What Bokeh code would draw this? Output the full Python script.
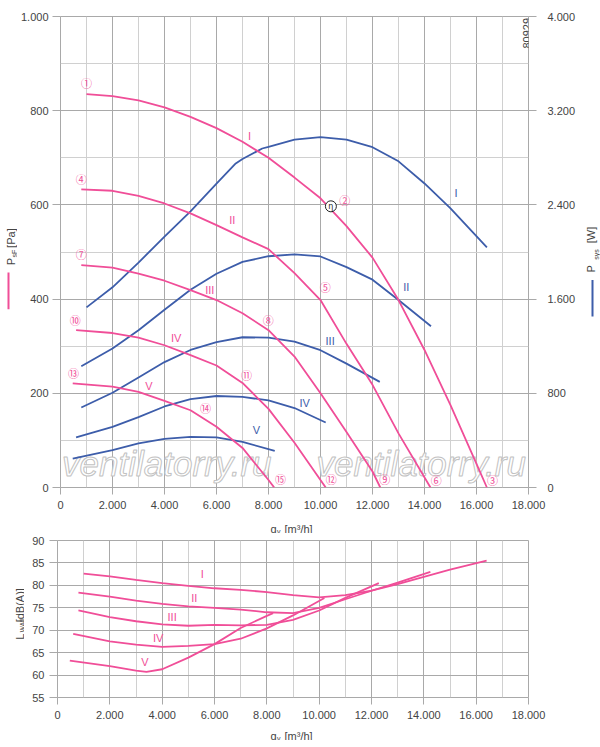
import math
from bokeh.plotting import figure
from bokeh.models import Range1d, LinearAxis, FixedTicker, Label
from bokeh.layouts import column, row
from bokeh.core.properties import value
from bokeh.embed import file_html
from bokeh.resources import INLINE

PINK = "#F04E98"
BLUE = "#3D5DAA"
GRID_D = "#a9a9a9"
GRID_L = "#d0d0d0"
TXT = "#444444"
FONT = "Liberation Sans"

# ---------------- data ----------------
x_ticks = [0, 2000, 4000, 6000, 8000, 10000, 12000, 14000, 16000, 18000]
x_tick_labels = ["0", "2.000", "4.000", "6.000", "8.000", "10.000", "12.000", "14.000", "16.000", "18.000"]
x_minor = [1000, 3000, 5000, 7000, 9000, 11000, 13000, 15000, 17000]
p_ticks = [0, 200, 400, 600, 800, 1000]
p_tick_labels = ["0", "200", "400", "600", "800", "1.000"]
p_minor = [100, 300, 500, 700, 900]
w_ticks = [0, 800, 1600, 2400, 3200, 4000]
w_tick_labels = ["0", "800", "1.600", "2.400", "3.200", "4.000"]
db_ticks = [55, 60, 65, 70, 75, 80, 85, 90]
db_tick_labels = ["55", "60", "65", "70", "75", "80", "85", "90"]

# static pressure psF [Pa]
ps_I_x = [1000, 2000, 3000, 4000, 5000, 6000, 7000, 8000, 9000, 10000, 11000, 12000, 13000, 14000, 15000, 16000, 16400]
ps_I_y = [835, 831, 822, 807, 787, 763, 734, 700, 658, 614, 555, 488, 398, 292, 175, 50, 0]
ps_II_x = [800, 2000, 3000, 4000, 5000, 6000, 7000, 8000, 9000, 10000, 11000, 12000, 13000, 14230]
ps_II_y = [633, 630, 619, 603, 582, 557, 531, 506, 455, 398, 305, 218, 115, 0]
ps_III_x = [800, 2000, 3000, 4000, 5000, 6000, 7000, 8000, 9000, 10000, 11000, 12000, 12300]
ps_III_y = [472, 467, 454, 439, 419, 398, 370, 334, 278, 200, 118, 34, 0]
ps_IV_x = [600, 2000, 3000, 4000, 5000, 6000, 7000, 8000, 9000, 10200]
ps_IV_y = [334, 328, 318, 302, 281, 259, 222, 167, 95, 0]
ps_V_x = [470, 2000, 3000, 4000, 5000, 6000, 7000, 8000, 8220]
ps_V_y = [221, 214, 203, 184, 164, 129, 84, 16, 0]

# power Psys [W]
pw_I_x = [1000, 2000, 3000, 4000, 5000, 6000, 6740, 7000, 7760, 8000, 9000, 10000, 11000, 12000, 13000, 14000, 15000, 16400]
pw_I_y = [1530, 1700, 1910, 2130, 2345, 2580, 2752, 2790, 2879, 2893, 2955, 2975, 2955, 2890, 2770, 2582, 2370, 2040]
pw_II_x = [800, 2000, 3000, 4000, 5000, 6000, 7000, 8000, 9000, 10000, 11000, 12000, 13000, 14250]
pw_II_y = [1030, 1180, 1335, 1510, 1680, 1815, 1916, 1964, 1980, 1962, 1872, 1765, 1592, 1370]
pw_III_x = [800, 2000, 3000, 4000, 5000, 6000, 7000, 8000, 9000, 10000, 11000, 12280]
pw_III_y = [679, 805, 935, 1065, 1168, 1235, 1276, 1272, 1238, 1166, 1052, 897]
pw_IV_x = [600, 2000, 3000, 4000, 5000, 6000, 7000, 8000, 9000, 10200]
pw_IV_y = [425, 515, 598, 688, 750, 777, 769, 740, 675, 552]
pw_V_x = [470, 2000, 3000, 4000, 5000, 6000, 7000, 8240]
pw_V_y = [246, 317, 374, 413, 430, 425, 387, 311]

# sound power LWA5 [dB(A)]
db_I_x = [1000, 2000, 3000, 4000, 5000, 6000, 7000, 8000, 9000, 10000, 11000, 12000, 13000, 14000, 15000, 16400]
db_I_y = [82.6, 82.0, 81.2, 80.5, 79.9, 79.35, 79.0, 78.5, 77.8, 77.3, 77.8, 78.8, 80.3, 81.9, 83.5, 85.5]
db_II_x = [800, 2000, 3000, 4000, 5000, 6000, 7000, 8000, 9000, 10000, 11000, 12000, 13000, 14250]
db_II_y = [78.4, 77.5, 76.6, 75.85, 75.3, 75.0, 74.6, 74.0, 73.8, 75.0, 76.9, 78.8, 80.6, 83.0]
db_III_x = [800, 2000, 3000, 4000, 5000, 6000, 7000, 8000, 9000, 10000, 11000, 12280]
db_III_y = [74.4, 72.9, 72.0, 71.3, 71.0, 71.2, 71.1, 71.2, 72.3, 74.4, 77.2, 80.5]
db_IV_x = [600, 2000, 3000, 4000, 5000, 6000, 7000, 8000, 9000, 10200]
db_IV_y = [69.2, 67.5, 66.8, 66.3, 66.5, 66.9, 68.1, 70.4, 73.3, 77.2]
db_V_x = [470, 2000, 3000, 3400, 4000, 5000, 6000, 7000, 8000, 8240]
db_V_y = [63.2, 62.0, 61.0, 60.7, 61.3, 63.9, 66.9, 70.5, 73.2, 73.8]

curve_names = ["I", "II", "III", "IV", "V"]

# operating point markers (circled numbers)
mark_text = ["①", "④", "⑦", "⑩", "⑬", "②", "⑤", "⑧", "⑪", "⑭", "③", "⑥", "⑨", "⑫", "⑮"]
mark_x = [1000, 800, 800, 570, 500, 10930, 10180, 7990, 7150, 5580, 16620, 14450, 12470, 10410, 8460]
mark_y = [858, 655, 495, 355, 243, 610, 425, 355, 238, 168, 16, 16, 17, 17, 17]
eta_x = [10400]
eta_y = [597]

# curve label positions
ps_lab_x = [7270, 6610, 5740, 4450, 3400]
ps_lab_y = [746, 567, 419, 318, 215]
pw_lab_x = [15210, 13300, 10370, 9390, 7540]
pw_lab_y = [2502, 1704, 1240, 720, 488]
db_lab_x = [5530, 5230, 4380, 3850, 3340]
db_lab_y = [82.6, 77.2, 72.9, 68.3, 62.9]


# ---------------- helpers ----------------
def fx(px):
    return (px - 57) / 471 * 18000


def fy1(py):
    return (487 - py) / 471 * 1000


def style_axis(ax, standoff, tick_out=8):
    ax.axis_line_color = None
    ax.major_tick_line_color = GRID_D
    ax.major_tick_out = tick_out
    ax.major_tick_in = 0
    ax.minor_tick_line_color = None
    ax.major_label_text_font = FONT
    ax.major_label_text_font_size = "11px"
    ax.major_label_text_color = TXT
    ax.major_label_standoff = standoff


def lab(p, x, y, text, size="11px", angle=0.0, color=TXT, align="left", baseline="alphabetic"):
    p.add_layout(Label(x=x, y=y, text=text, angle=angle, text_font=FONT, text_font_size=size,
                       text_color=color, text_align=align, text_baseline=baseline))


def text_panel(w, h):
    # a blank canvas whose data units are its own pixels (y downwards)
    f = figure(width=w, height=h, x_range=Range1d(0, w), y_range=Range1d(h, 0),
               x_axis_location=None, y_axis_location=None, min_border=0,
               output_backend="svg", toolbar_location=None)
    f.outline_line_color = None
    f.grid.visible = False
    return f


UP = math.pi / 2

# ---------------- top chart (page x 17..578, y 0..515) ----------------
p1 = figure(width=561, height=515, x_range=Range1d(0, 18000), y_range=Range1d(0, 1000),
            output_backend="svg", toolbar_location=None,
            min_border_left=40, min_border_right=50, min_border_top=16, min_border_bottom=28)
p1.extra_y_ranges = {"pw": Range1d(0, 4000)}
p1.outline_line_color = GRID_D
p1.xaxis.ticker = FixedTicker(ticks=x_ticks, minor_ticks=x_minor)
p1.yaxis.ticker = FixedTicker(ticks=p_ticks, minor_ticks=p_minor)
p1.xaxis.major_label_overrides = dict(zip(x_ticks, x_tick_labels))
p1.yaxis.major_label_overrides = dict(zip(p_ticks, p_tick_labels))
style_axis(p1.xaxis[0], 6, 7)
style_axis(p1.yaxis[0], 4)
ax_r = LinearAxis(y_range_name="pw", ticker=FixedTicker(ticks=w_ticks))
ax_r.major_label_overrides = dict(zip(w_ticks, w_tick_labels))
style_axis(ax_r, 11)
p1.add_layout(ax_r, "right")
for g in (p1.xgrid[0], p1.ygrid[0]):
    g.grid_line_color = GRID_D
    g.minor_grid_line_color = GRID_L

# watermark
for cx in (fx(164), fx(420)):
    kw = dict(x=cx, y=fy1(463), text="ventilatorry.ru", text_font=FONT, text_font_style="italic",
              text_font_size="35px", text_align="center", text_baseline="alphabetic", level="underlay")
    try:
        wm = Label(**kw, text_color="white", text_outline_color="#c2c2c2")
    except Exception:
        wm = Label(**kw, text_color="#e6e6e6")
    p1.add_layout(wm)

ps_series = [(ps_I_x, ps_I_y), (ps_II_x, ps_II_y), (ps_III_x, ps_III_y), (ps_IV_x, ps_IV_y), (ps_V_x, ps_V_y)]
pw_series = [(pw_I_x, pw_I_y), (pw_II_x, pw_II_y), (pw_III_x, pw_III_y), (pw_IV_x, pw_IV_y), (pw_V_x, pw_V_y)]
for xs, ys in pw_series:
    p1.line(xs, ys, y_range_name="pw", line_color=BLUE, line_width=1.8)
for xs, ys in ps_series:
    p1.line(xs, ys, line_color=PINK, line_width=1.8)

p1.text(x=ps_lab_x, y=ps_lab_y, text=curve_names, text_font=value(FONT), text_font_size="11px",
        text_color=PINK, text_align="center", text_baseline="middle")
p1.text(x=pw_lab_x, y=pw_lab_y, text=curve_names, y_range_name="pw", text_font=value(FONT),
        text_font_size="11px", text_color=BLUE, text_align="center", text_baseline="middle")
p1.text(x=mark_x, y=mark_y, text=mark_text, text_font=value("Noto Sans CJK JP"), text_font_size="11px",
        text_color=PINK, text_align="center", text_baseline="middle")
p1.scatter(x=eta_x, y=eta_y, marker="circle", size=11, fill_color="white", line_color="#222222", line_width=1)
p1.text(x=eta_x, y=eta_y, text=["η"], text_font=value("DejaVu Sans"), text_font_size="8px",
        text_color="#222222", text_align="center", text_baseline="middle")

# chart number, reading bottom-to-top
lab(p1, fx(526), fy1(48), "80929", size="11px", angle=UP)

# left label panel of the top chart (page x 0..17)
L1 = text_panel(17, 515)
lab(L1, 10.5, 272, "P", angle=UP)
lab(L1, 14, 263.5, "sF", size="7px", angle=UP)
lab(L1, 10.5, 253, "[Pa]", angle=UP)
L1.line([8, 8], [280, 320], line_color=PINK, line_width=2)

# right label panel of the top chart (page x 578..600)
R1 = text_panel(22, 515)
lab(R1, 12.5, 280, "P", angle=UP)
lab(R1, 18, 266, "sys", size="7px", angle=UP)
lab(R1, 12.5, 248, "[W]", angle=UP)
R1.line([14, 14], [288, 328], line_color=BLUE, line_width=2)

# x title of the top chart (page y 515..533)
T1 = text_panel(600, 18)
lab(T1, 270, 13, "q")
lab(T1, 276.5, 15.5, "v", size="7px")
lab(T1, 284, 13, "[m³/h]")

# ---------------- bottom chart (page x 24..600, y 533..723) ----------------
p2 = figure(width=576, height=190, x_range=Range1d(0, 18000), y_range=Range1d(55, 90),
            output_backend="svg", toolbar_location=None,
            min_border_left=33, min_border_right=72, min_border_top=7, min_border_bottom=26)
p2.outline_line_color = GRID_D
p2.xaxis.ticker = FixedTicker(ticks=x_ticks, minor_ticks=x_minor)
p2.yaxis.ticker = FixedTicker(ticks=db_ticks)
p2.xaxis.major_label_overrides = dict(zip(x_ticks, x_tick_labels))
p2.yaxis.major_label_overrides = dict(zip(db_ticks, db_tick_labels))
style_axis(p2.xaxis[0], 6, 7)
style_axis(p2.yaxis[0], 5)
p2.xgrid[0].grid_line_color = GRID_D
p2.xgrid[0].minor_grid_line_color = GRID_L
p2.ygrid[0].grid_line_color = GRID_D

db_series = [(db_I_x, db_I_y), (db_II_x, db_II_y), (db_III_x, db_III_y), (db_IV_x, db_IV_y), (db_V_x, db_V_y)]
for xs, ys in db_series:
    p2.line(xs, ys, line_color=PINK, line_width=1.8)
p2.text(x=db_lab_x, y=db_lab_y, text=curve_names, text_font=value(FONT), text_font_size="11px",
        text_color=PINK, text_align="center", text_baseline="middle")

# left label panel of the bottom chart (page x 0..24)
L2 = text_panel(24, 190)
lab(L2, 19, 120, "L", angle=UP)
lab(L2, 21.5, 111, "WA5", size="6.5px", angle=UP)
lab(L2, 19, 99, "[dB(A)]", angle=UP)

# x title of the bottom chart (page y 723..740)
T2 = text_panel(600, 17)
lab(T2, 270, 12, "q")
lab(T2, 276.5, 14.5, "v", size="7px")
lab(T2, 284, 12, "[m³/h]")

layout = column(row(L1, p1, R1), T1, row(L2, p2), T2)
open("out.html", "w").write(file_html(layout, INLINE))
